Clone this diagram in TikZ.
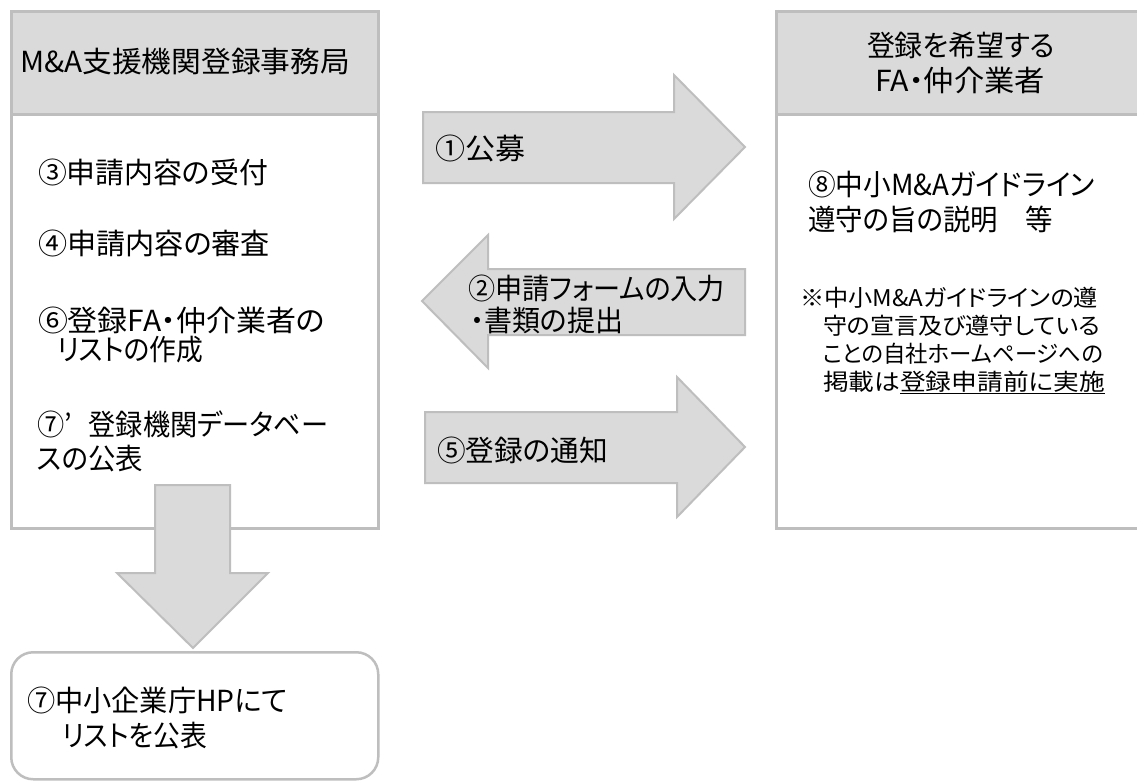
\documentclass[tikz,border=0pt]{standalone}
\usepackage{graphicx}
\usepackage{fontspec}
\newfontfamily\jp[RawFeature=+palt]{Noto Sans CJK JP}
\newcommand{\fmain}{\fontsize{29}{33}\selectfont}
\newcommand{\fnote}{\fontsize{23}{28}\selectfont}
\newcommand{\fitto}[2]{\resizebox{#1}{\height}{#2}}
\definecolor{boxfill}{RGB}{218,218,218}
\definecolor{boxline}{RGB}{190,190,190}
\tikzset{
  hdrbox/.style={draw=boxline, fill=boxfill, line width=2.5pt, anchor=north west, inner sep=0pt},
  bodybox/.style={draw=boxline, fill=white, line width=2.5pt, anchor=north west, inner sep=0pt},
  blockarrow/.style={draw=boxline, fill=boxfill, line width=2pt, line join=miter},
  txt/.style={anchor=base west, inner sep=0pt, outer sep=0pt, font=\jp\fmain, text=black},
  ctxt/.style={txt, anchor=base},
  notetxt/.style={txt, font=\jp\fnote},
}
\begin{document}
\begin{tikzpicture}[x=1pt, y=-1pt]
\useasboundingbox (0,0) rectangle (1137,780);
\fill[white] (0,0) rectangle (1137,780);
% left box
\node[hdrbox, minimum width=367pt, minimum height=103pt] (lhead) at (10,10) {};
\node[bodybox, minimum width=367pt, minimum height=414pt] (lbody) at (10,113) {};
% right box
\node[hdrbox, minimum width=367pt, minimum height=103pt] (rhead) at (775,10) {};
\node[bodybox, minimum width=367pt, minimum height=414pt] (rbody) at (775,113) {};
% bottom rounded box
\node[bodybox, rounded corners=22pt, minimum width=367pt, minimum height=127pt] (hp) at (10,651) {};

% block arrows
\draw[blockarrow] (423,112) -- (674,112) -- (674,75) -- (745,147) -- (674,219) -- (674,183) -- (423,183) -- cycle;
\draw[blockarrow] (745,269) -- (488,269) -- (488,235) -- (422,301) -- (488,368) -- (488,335) -- (745,335) -- cycle;
\draw[blockarrow] (425,412) -- (677,412) -- (677,377) -- (745,447) -- (677,517) -- (677,483) -- (425,483) -- cycle;
\draw[blockarrow] (155,485) -- (230,485) -- (230,573) -- (268,573) -- (193,648) -- (117,573) -- (155,573) -- cycle;

% header texts
\node[txt] (lt) at (20,72) {\fitto{330pt}{M\&A支援機関登録事務局}};
\node[txt] (rt1) at (867,56) {\fitto{188pt}{登録を希望する}};
\node[txt] (rt2) at (875,91) {\fitto{170pt}{FA・仲介業者}};

% left body
\node[txt] (s3) at (38,183) {\fitto{230pt}{③申請内容の受付}};
\node[txt] (s4) at (38,254) {\fitto{232pt}{④申請内容の審査}};
\node[txt] (s6a) at (38,331) {\fitto{287pt}{⑥登録FA・仲介業者の}};
\node[txt] (s6b) at (57,360) {\fitto{146pt}{リストの作成}};
\node[txt] (s7a) at (37,435) {\fitto{291pt}{⑦’\hspace{18pt}登録機関データベー}};
\node[txt] (s7b) at (37,469) {\fitto{106pt}{スの公表}};

% arrow labels
\node[txt] (a1) at (435,159) {\fitto{90pt}{①公募}};
\node[txt] (a2a) at (468,299) {\fitto{257pt}{②申請フォームの入力}};
\node[txt] (a2b) at (470,331) {\fitto{153pt}{・書類の提出}};
\node[txt] (a5) at (437,461) {\fitto{171pt}{⑤登録の通知}};

% right body
\node[txt] (s8a) at (808,195) {\fitto{287pt}{⑧中小M\&Aガイドライン}};
\node[txt] (s8b) at (808,230) {\fitto{245pt}{遵守の旨の説明　等}};
\node[notetxt] (n1) at (800,306) {\fitto{298pt}{※中小M\&Aガイドラインの遵}};
\node[notetxt] (n2) at (823,334) {\fitto{277pt}{守の宣言及び遵守している}};
\node[notetxt] (n3) at (823,362) {\fitto{280pt}{ことの自社ホームページへの}};
\node[notetxt] (n4) at (823,390) {\fitto{282pt}{掲載は\underline{登録申請前に実施}}};

% bottom box text
\node[txt] (hp1) at (27,711) {\fitto{261pt}{⑦中小企業庁HPにて}};
\node[txt] (hp2) at (62,746) {\fitto{145pt}{リストを公表}};
\end{tikzpicture}
\end{document}
